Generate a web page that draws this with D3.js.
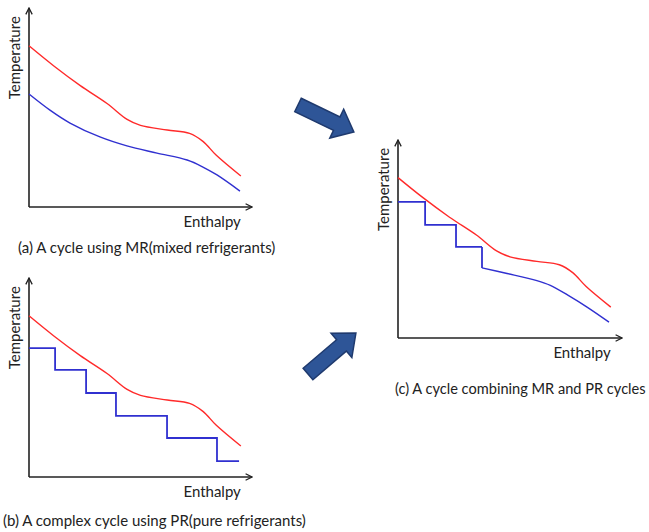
<!DOCTYPE html>
<html>
<head>
<meta charset="utf-8">
<script src="https://cdn.jsdelivr.net/npm/d3@7"></script>
<style>
  body { margin: 0; background: #fff; }
  text { font-family: Lato, "Open Sans", sans-serif; fill: #222; }
</style>
</head>
<body>
<svg width="649" height="532"></svg>
<script>
// enthalpy / temperature in arbitrary units (0-100)
const redH = [0, 11, 23, 35, 44, 50, 62, 72, 78, 84, 95];
const redT = [81, 71, 61, 52, 44, 41, 38.7, 37, 33, 26, 15.6];

const mrH = [0, 9.4, 18.4, 31.8, 43.9, 57.4, 70.9, 78, 84.3, 94.6];
const mrT = [56.8, 48.7, 42.2, 35.2, 30.7, 27.1, 23.6, 20.1, 16.1, 8];

// pure refrigerant stages: start enthalpy and temperature of each plateau
const prH = [0, 11.7, 25.6, 39, 61.9, 84.3];
const prT = [64.8, 53.8, 42.2, 30.7, 19.6, 8];
const prEnd = 94.2;

// combined: three PR stages, then MR curve
const cPrH = [0, 12.1, 25.9];
const cPrT = [68.7, 57.1, 46];
const cMrH = [37.5, 48.7, 62, 68, 76, 84.4, 94.2];
const cMrT = [35.4, 32.6, 29, 26.6, 21.5, 15.6, 8];

const svg = d3.select("svg");
const zip = (xs, ys) => xs.map((x, i) => [x, ys[i]]);

svg.append("defs").append("marker")
    .attr("id", "head")
    .attr("viewBox", "0 0 10 10")
    .attr("refX", 9).attr("refY", 5)
    .attr("markerWidth", 8).attr("markerHeight", 8)
    .attr("markerUnits", "userSpaceOnUse")
    .attr("orient", "auto")
  .append("path")
    .attr("d", "M1,1 L9,5 L1,9")
    .attr("fill", "none")
    .attr("stroke", "#222")
    .attr("stroke-width", 1.6);

function panel(left, top, right, bottom, caption) {
  const x = d3.scaleLinear().domain([0, 100]).range([left, right]);
  const y = d3.scaleLinear().domain([0, 100]).range([bottom, top]);
  const g = svg.append("g");

  g.append("line")
      .attr("x1", x(0)).attr("y1", y(0)).attr("x2", x(0)).attr("y2", y(100))
      .attr("stroke", "#222").attr("stroke-width", 1.6)
      .attr("marker-end", "url(#head)");
  g.append("line")
      .attr("x1", x(0)).attr("y1", y(0)).attr("x2", x(100)).attr("y2", y(0))
      .attr("stroke", "#222").attr("stroke-width", 1.6)
      .attr("marker-end", "url(#head)");

  g.append("text")
      .attr("transform", `translate(${x(0) - 9},${y(75)}) rotate(-90)`)
      .attr("text-anchor", "middle")
      .attr("font-size", 15)
      .text("Temperature");
  g.append("text")
      .attr("x", x(95)).attr("y", y(0) + 20)
      .attr("text-anchor", "end")
      .attr("font-size", 15)
      .text("Enthalpy");

  g.append("text")
      .attr("x", caption.x).attr("y", caption.y)
      .attr("font-size", caption.size || 15)
      .text(caption.text);

  return { g, x, y };
}

function smooth(p, pts, color) {
  const line = d3.line().x(d => p.x(d[0])).y(d => p.y(d[1])).curve(d3.curveCatmullRom);
  p.g.append("path")
      .attr("d", line(pts))
      .attr("fill", "none")
      .attr("stroke", color)
      .attr("stroke-width", 1.4);
}

function steps(p, hs, ts, end, color) {
  const pts = [];
  hs.forEach((h, i) => {
    const next = i + 1 < hs.length ? hs[i + 1] : end;
    pts.push([h, ts[i]], [next, ts[i]]);
  });
  const line = d3.line().x(d => p.x(d[0])).y(d => p.y(d[1]));
  p.g.append("path")
      .attr("d", line(pts))
      .attr("fill", "none")
      .attr("stroke", color)
      .attr("stroke-width", 1.8);
  return pts;
}

const red = "#ff2a2a", blue = "#3030d0";

// (a)
const pa = panel(29, 8, 252, 207, { x: 18, y: 253, text: "(a) A cycle using MR(mixed refrigerants)" });
smooth(pa, zip(redH, redT), red);
smooth(pa, zip(mrH, mrT), blue);

// (b)
const pb = panel(29, 278, 252, 477, { x: 3, y: 526, text: "(b) A complex cycle using PR(pure refrigerants)" });
smooth(pb, zip(redH, redT), red);
steps(pb, prH, prT, prEnd, blue);

// (c)
const pc = panel(398, 140, 622, 338, { x: 395, y: 394, size: 14.6, text: "(c) A cycle combining MR and PR cycles" });
smooth(pc, zip(redH, redT), red);
const st = steps(pc, cPrH, cPrT, cMrH[0], blue);
const lastStep = st[st.length - 1];
const cLine = d3.line().x(d => pc.x(d[0])).y(d => pc.y(d[1]));
pc.g.append("path")
    .attr("d", cLine([lastStep, [cMrH[0], cMrT[0]]]))
    .attr("fill", "none").attr("stroke", blue).attr("stroke-width", 1.8);
smooth(pc, zip(cMrH, cMrT), blue);

// block arrows
const arrows = [
  { x: 298, y: 105, angle: 25.7, len: 62 },
  { x: 308, y: 374, angle: -40.5, len: 63 }
];
const arrowShape = len => {
  const sw = 7.5, hw = 16, hl = 19;
  return `M0,${-sw} L${len - hl},${-sw} L${len - hl},${-hw} L${len},0 L${len - hl},${hw} L${len - hl},${sw} L0,${sw} Z`;
};
svg.selectAll("path.arrow")
  .data(arrows)
  .join("path")
    .attr("class", "arrow")
    .attr("transform", d => `translate(${d.x},${d.y}) rotate(${d.angle})`)
    .attr("d", d => arrowShape(d.len))
    .attr("fill", "#2e5597")
    .attr("stroke", "#1f3a6e")
    .attr("stroke-width", 1.5)
    .attr("stroke-linejoin", "miter");
</script>
</body>
</html>
